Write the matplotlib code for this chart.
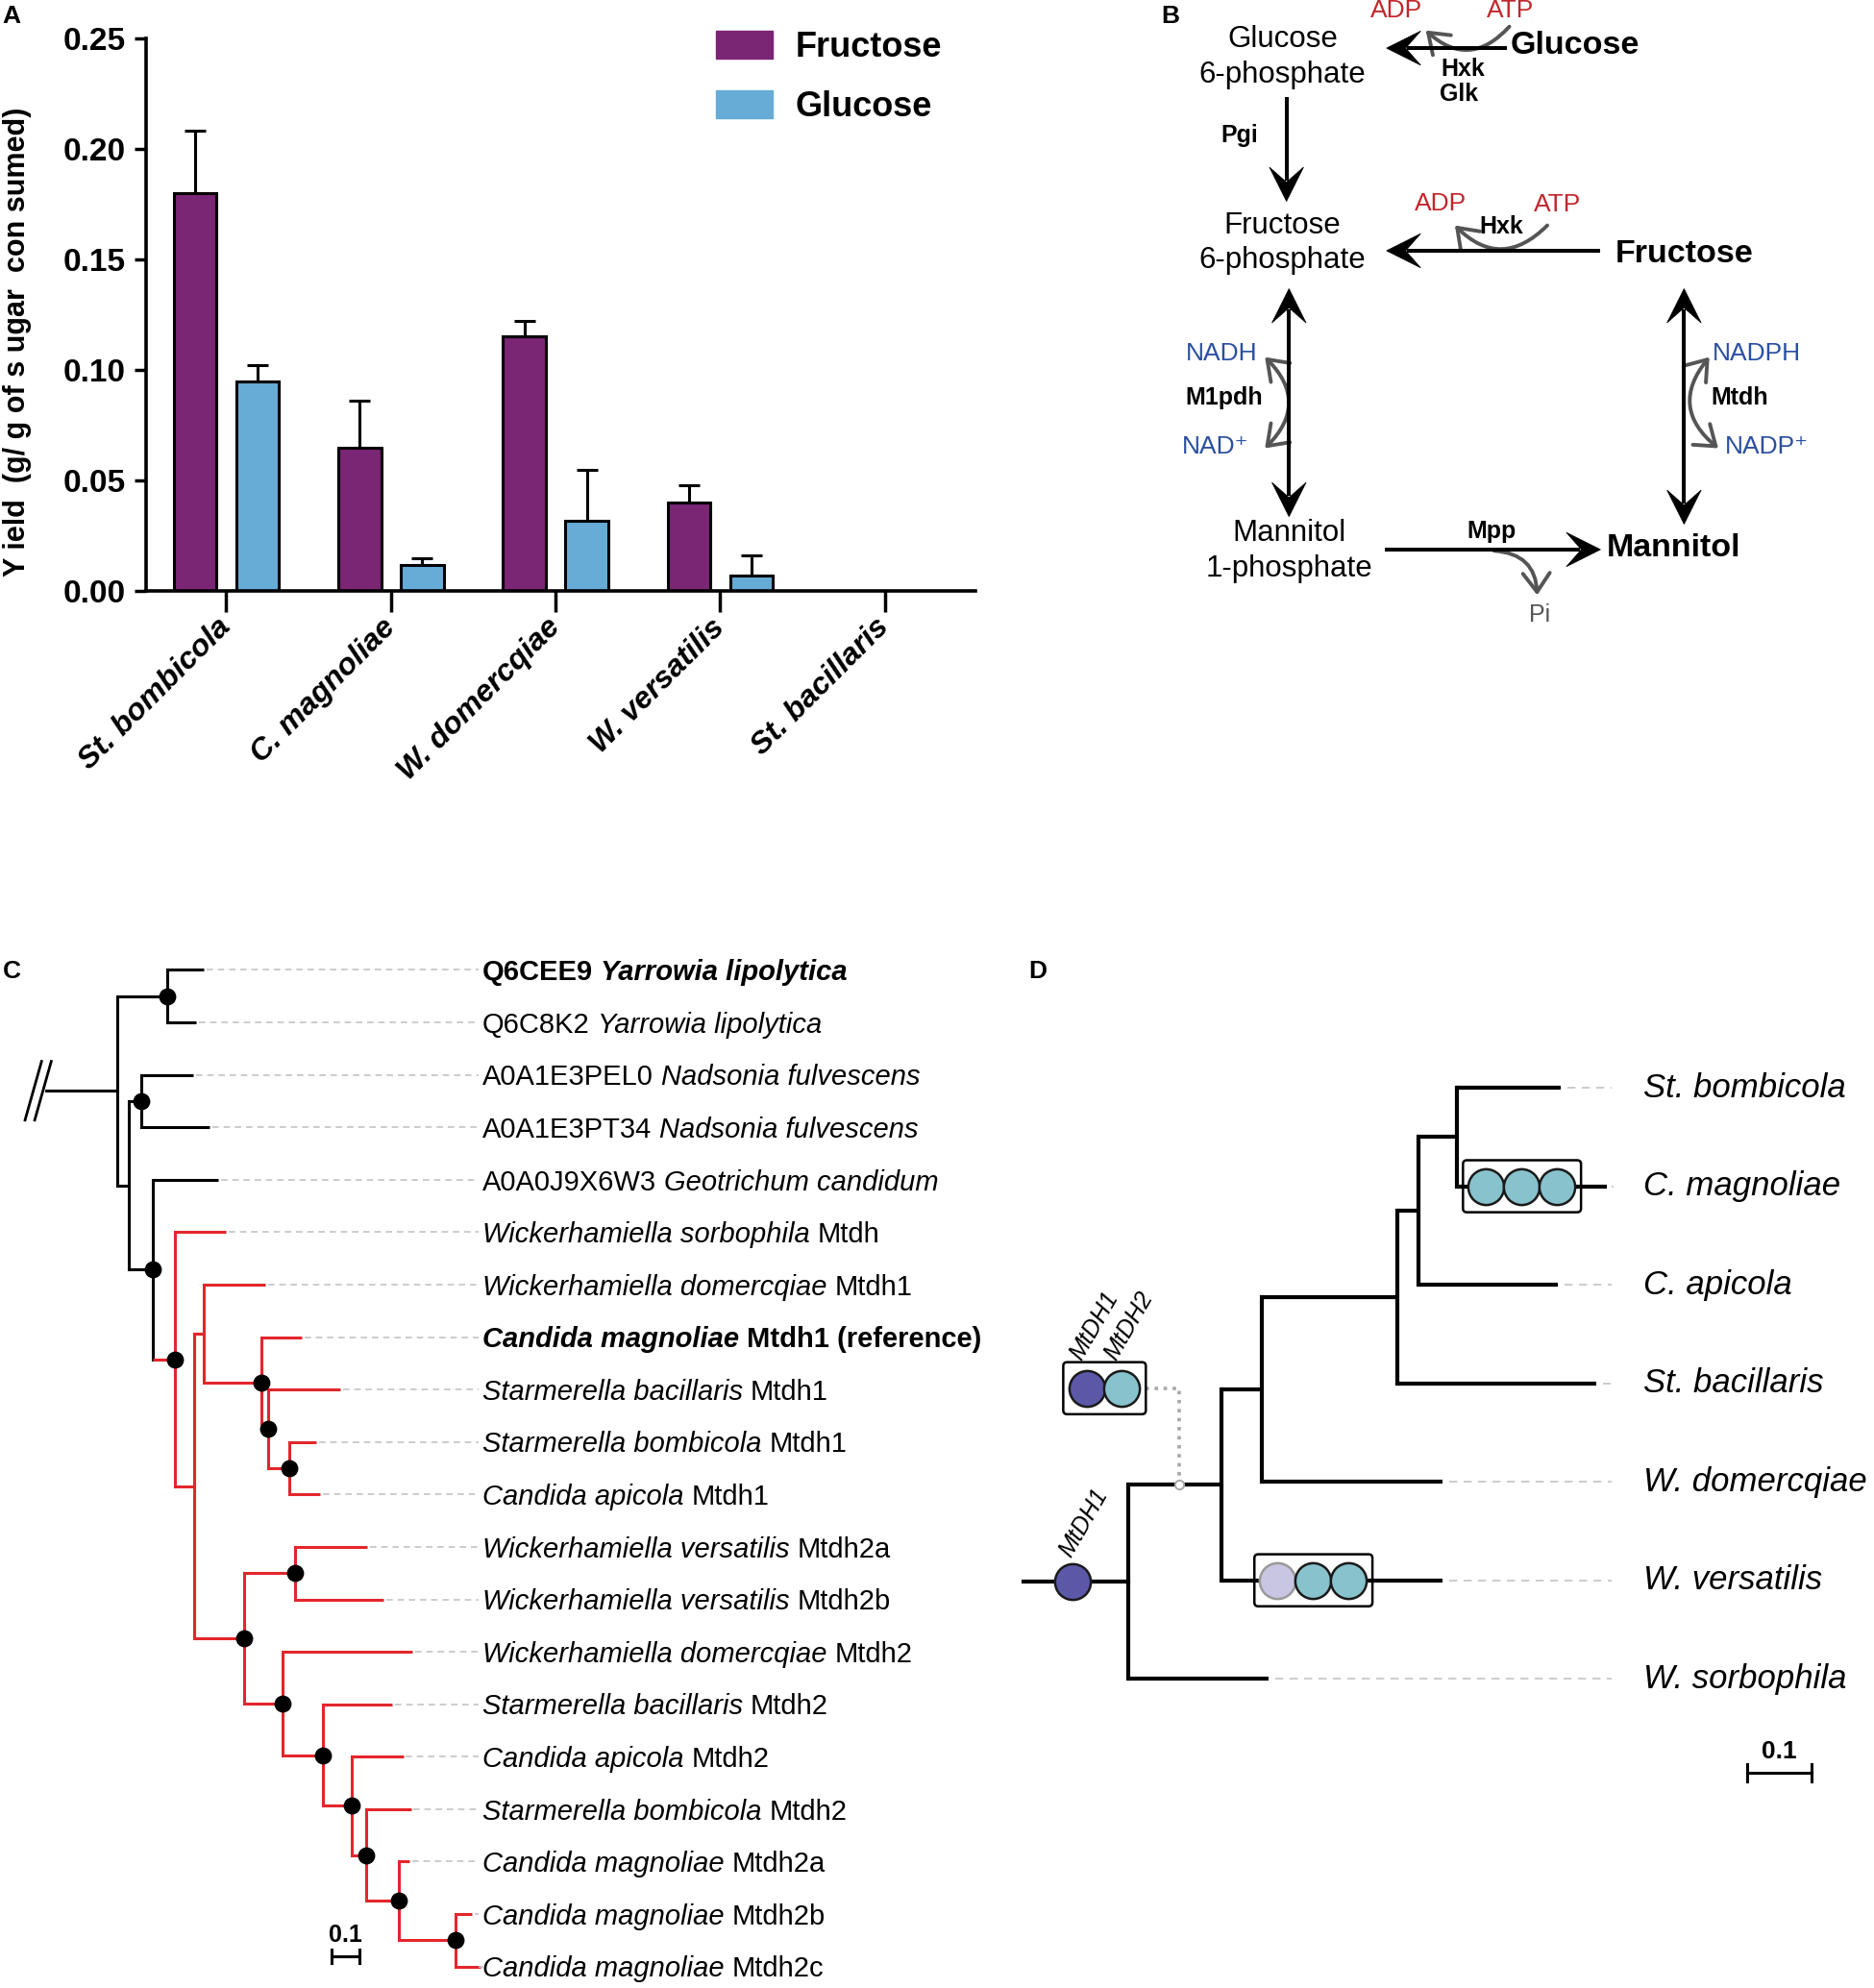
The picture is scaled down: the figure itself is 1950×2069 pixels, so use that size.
import re
import numpy as np
import matplotlib
matplotlib.use("Agg")
import matplotlib.pyplot as plt
from matplotlib.patches import Patch, Polygon, FancyArrowPatch, FancyBboxPatch

plt.rcParams['font.family'] = ['Liberation Sans', 'DejaVu Sans']

# ---------------- panel A data ----------------
SPECIES_A      = ["St. bombicola", "C. magnoliae", "W. domercqiae", "W. versatilis", "St. bacillaris"]
FRUCTOSE_YIELD = [0.180, 0.065, 0.115, 0.040, 0.0]
FRUCTOSE_ERR   = [0.028, 0.021, 0.007, 0.008, 0.0]
GLUCOSE_YIELD  = [0.095, 0.012, 0.032, 0.007, 0.0]
GLUCOSE_ERR    = [0.007, 0.003, 0.023, 0.009, 0.0]
Y_TICKS        = [0.00, 0.05, 0.10, 0.15, 0.20, 0.25]

# ---------------- panel C data (branch lengths, * = supported node, R = red clade) ----------------
C_NEWICK = ("((T0:0.135,T1:0.105)*:0.179,((T2:0.186,T3:0.247)*:0.047,(T4:0.237,(T5:0.186,"
            "((T6:0.221,(T7:0.147,(T8:0.263,(T9:0.098,T10:0.112)*:0.077)*:0.023)*:0.207):0.035,"
            "((T11:0.263,T12:0.323)*:0.184,(T13:0.470,(T14:0.249,(T15:0.188,(T16:0.163,"
            "(T17:0.040,(T18:0.060,T19:0.091)*:0.205)*:0.119)*:0.053)*:0.102)*:0.147)*:0.140)*:0.179)"
            ":0.072)R*:0.079)*:0.088):0.040);")
C_TIPS = [
    ("Q6CEE9", "Yarrowia lipolytica", ""),
    ("Q6C8K2", "Yarrowia lipolytica", ""),
    ("A0A1E3PEL0", "Nadsonia fulvescens", ""),
    ("A0A1E3PT34", "Nadsonia fulvescens", ""),
    ("A0A0J9X6W3", "Geotrichum candidum", ""),
    ("", "Wickerhamiella sorbophila", "Mtdh"),
    ("", "Wickerhamiella domercqiae", "Mtdh1"),
    ("", "Candida magnoliae", "Mtdh1 (reference)"),
    ("", "Starmerella bacillaris", "Mtdh1"),
    ("", "Starmerella bombicola", "Mtdh1"),
    ("", "Candida apicola", "Mtdh1"),
    ("", "Wickerhamiella versatilis", "Mtdh2a"),
    ("", "Wickerhamiella versatilis", "Mtdh2b"),
    ("", "Wickerhamiella domercqiae", "Mtdh2"),
    ("", "Starmerella bacillaris", "Mtdh2"),
    ("", "Candida apicola", "Mtdh2"),
    ("", "Starmerella bombicola", "Mtdh2"),
    ("", "Candida magnoliae", "Mtdh2a"),
    ("", "Candida magnoliae", "Mtdh2b"),
    ("", "Candida magnoliae", "Mtdh2c"),
]
C_BOLD = [0, 7]

# ---------------- panel D data ----------------
D_NEWICK = ("((((((T0:0.161,T1:0.232):0.060,T2:0.216):0.032,T3:0.308):0.211,"
            "T4:0.281):0.062,T5:0.342):0.145,T6:0.218);")
D_TIPS = ["St. bombicola", "C. magnoliae", "C. apicola", "St. bacillaris",
          "W. domercqiae", "W. versatilis", "W. sorbophila"]
# gene copies: (row, x of first copy on branch, copies)  1 = MtDH1, 2 = MtDH2, 0 = lost MtDH1
D_COPIES = [(3.05, -0.064, [1, 2]), (1, 0.555, [2, 2, 2]), (5, 0.232, [0, 2, 2])]

PURPLE = "#7b2575"
BLUE = "#67acd6"
TREE_RED = "#e3262c"
MT1 = "#5c58a8"
MT2 = "#88c2cc"
MT1_LOST = "#c9c6e3"
RED_T = "#c1272d"
BLUE_T = "#2b4fa0"
GREY = "#555555"


def parse_newick(s):
    tokens = re.findall(r"[(),;]|[^(),;]+", s)
    pos = 0

    def node():
        nonlocal pos
        kids = []
        if tokens[pos] == "(":
            pos += 1
            kids.append(node())
            while tokens[pos] == ",":
                pos += 1
                kids.append(node())
            pos += 1
        label, bl = "", 0.0
        if tokens[pos] not in "(),;":
            label, _, b = tokens[pos].partition(":")
            bl = float(b) if b else 0.0
            pos += 1
        return {"label": label, "bl": bl, "kids": kids}

    return node()


def layout(node, x0=0.0):
    node["x"] = x0 + node["bl"]
    if node["kids"]:
        for k in node["kids"]:
            layout(k, node["x"])
        node["y"] = (node["kids"][0]["y"] + node["kids"][-1]["y"]) / 2
    else:
        node["y"] = int(node["label"][1:])
    return node


def draw_tree(ax, node, col, lw, dot_s=0, tips=None):
    if node["kids"]:
        ys = [k["y"] for k in node["kids"]]
        ax.plot([node["x"]] * 2, [min(ys), max(ys)], color=col, lw=lw, solid_capstyle="projecting")
        for k in node["kids"]:
            kcol = TREE_RED if "R" in k["label"] else col
            ax.plot([node["x"], k["x"]], [k["y"]] * 2, color=kcol, lw=lw, solid_capstyle="butt")
            draw_tree(ax, k, kcol, lw, dot_s, tips)
    elif tips is not None:
        tips.append(node)
    if dot_s and "*" in node["label"]:
        ax.scatter([node["x"]], [node["y"]], s=dot_s, color="black", zorder=5)


def rich_label(ax, x, y, parts, size):
    prev = None
    for text, weight, style in parts:
        if not text:
            continue
        kw = dict(fontsize=size, fontweight=weight, fontstyle=style, ha="left")
        if prev is None:
            prev = ax.text(x, y, text, va="center", **kw)
        else:
            prev = ax.annotate(text, xy=(1, 0), xycoords=prev, xytext=(size * 0.27, 0),
                               textcoords="offset points", va="bottom", **kw)


def block_arrow(ax, start, end, both=False, lw=2.9, hl=27, hw=27):
    p0, p1 = np.array(start, float), np.array(end, float)
    d = (p1 - p0) / np.linalg.norm(p1 - p0)
    n = np.array([-d[1], d[0]])

    def head(tip, dv):
        pts = [tip, tip - dv * hl + n * hw / 2, tip - dv * hl * 0.56, tip - dv * hl - n * hw / 2]
        ax.add_patch(Polygon(pts, closed=True, fc="black", ec="black", lw=0.5, zorder=3))
        return tip - dv * hl * 0.6

    a = head(p0, -d) if both else p0
    b = head(p1, d)
    ax.plot([a[0], b[0]], [a[1], b[1]], color="black", lw=lw, solid_capstyle="butt")


def curved(ax, a, b, rad, style="->"):
    ax.add_patch(FancyArrowPatch(a, b, connectionstyle=f"arc3,rad={rad}",
                                 arrowstyle=f"{style},head_length=0.5,head_width=0.36",
                                 mutation_scale=28, color=GREY, lw=2.8, shrinkA=0, shrinkB=0))


fig = plt.figure(figsize=(19.5, 20.69), dpi=100)

# canvas in reference-pixel units (1480 x 1570) for the pathway and panel letters
cv = fig.add_axes([0, 0, 1, 1])
cv.set_xlim(0, 1480)
cv.set_ylim(1570, 0)
cv.axis("off")

for letter, lx, ly in [("A", 2, 13), ("B", 917, 13), ("C", 2, 767), ("D", 812, 767)]:
    cv.text(lx, ly, letter, fontsize=19, fontweight="bold", ha="left", va="center")

# ---------------- panel A ----------------
axA = fig.add_axes([0.0777, 0.7026, 0.4428, 0.2783])
axA.patch.set_visible(False)
xs = np.arange(len(SPECIES_A))
w, off = 0.26, 0.19
for shift, vals, errs, col in [(-off, FRUCTOSE_YIELD, FRUCTOSE_ERR, PURPLE),
                               (off, GLUCOSE_YIELD, GLUCOSE_ERR, BLUE)]:
    vals, errs = np.array(vals), np.array(errs)
    axA.bar(xs + shift, vals, w, color=col, edgecolor="black", lw=2.2, zorder=2)
    m = vals > 0
    axA.errorbar(xs[m] + shift, vals[m], yerr=[np.zeros(m.sum()), errs[m]], fmt="none",
                 ecolor="black", elinewidth=2.2, capsize=8, capthick=2.2, zorder=1)

axA.set_xlim(-0.49, 4.55)
axA.set_ylim(0, 0.25)
axA.set_yticks(Y_TICKS)
axA.set_yticklabels([f"{v:.2f}" for v in Y_TICKS], fontsize=24, fontweight="bold")
axA.set_xticks(xs)
axA.set_xticklabels(SPECIES_A, rotation=45, ha="right", va="center", rotation_mode="anchor",
                    fontsize=23, fontweight="bold", fontstyle="italic")
axA.tick_params(axis="y", length=9, width=2.5, pad=6)
axA.tick_params(axis="x", length=16, width=2.5, pad=8)
for s in ["top", "right"]:
    axA.spines[s].set_visible(False)
for s in ["left", "bottom"]:
    axA.spines[s].set_linewidth(2.6)
axA.set_ylabel("Y ield  (g/ g of s ugar  con sumed)", fontsize=22, fontweight="bold")
axA.yaxis.set_label_coords(-0.137, 0.45)
handles = [Patch(color=PURPLE), Patch(color=BLUE)]
axA.legend(handles, ["Fructose", "Glucose"], loc="upper left", bbox_to_anchor=(0.687, 1.013),
           frameon=False, borderpad=0, borderaxespad=0, handlelength=1.65, handleheight=0.85,
           handletextpad=0.65, labelspacing=0.75, prop={"size": 26, "weight": "bold"})

# ---------------- panel B (pathway) ----------------
B_TEXT = [
    ("Glucose\n6-phosphate", 1013, 45, "black", "normal", 22.5),
    ("Fructose\n6-phosphate", 1013, 192, "black", "normal", 22.5),
    ("Mannitol\n1-phosphate", 1018, 435, "black", "normal", 22.5),
    ("Glucose", 1244, 36, "black", "bold", 24.5),
    ("Fructose", 1330, 201, "black", "bold", 24.5),
    ("Mannitol", 1322, 433, "black", "bold", 24.5),
    ("ADP", 1103, 8, RED_T, "normal", 19), ("ATP", 1193, 8, RED_T, "normal", 19),
    ("ADP", 1138, 161, RED_T, "normal", 19), ("ATP", 1230, 162, RED_T, "normal", 19),
    ("Hxk", 1155, 55, "black", "bold", 18), ("Glk", 1152, 74, "black", "bold", 18),
    ("Hxk", 1186, 179, "black", "bold", 18), ("Pgi", 979, 107, "black", "bold", 18),
    ("NADH", 965, 279, BLUE_T, "normal", 19), ("M1pdh", 967, 314, "black", "bold", 18),
    ("NAD\u207a", 960, 353, BLUE_T, "normal", 19),
    ("NADPH", 1387, 279, BLUE_T, "normal", 19), ("Mtdh", 1374, 314, "black", "bold", 18),
    ("NADP\u207a", 1395, 353, BLUE_T, "normal", 19),
    ("Mpp", 1178, 420, "black", "bold", 18), ("Pi", 1216, 486, GREY, "normal", 18),
]
for txt, tx, ty, col, wt, sz in B_TEXT:
    cv.text(tx, ty, txt, ha="center", va="center", color=col, fontweight=wt, fontsize=sz,
            linespacing=1.3)

block_arrow(cv, (1190, 38), (1095, 38))
block_arrow(cv, (1016, 77), (1016, 159))
block_arrow(cv, (1264, 198), (1095, 198))
block_arrow(cv, (1018, 228), (1018, 408), both=True)
block_arrow(cv, (1330, 228), (1330, 414), both=True)
block_arrow(cv, (1094, 434), (1264, 434))

curved(cv, (1192, 21), (1126, 24), -0.5)
curved(cv, (1222, 178), (1149, 178), -0.5)
curved(cv, (999, 282), (999, 354), -0.5, "<->")
curved(cv, (1350, 282), (1357, 354), 0.5, "<->")
curved(cv, (1180, 435), (1214, 470), -0.45)

# ---------------- panel C (gene tree) ----------------
axC = fig.add_axes([0, 0, 1000 / 1480, 1 - 740 / 1570])
axC.axis("off")
axC.set_xlim(-92.8 / 218, (1000 - 92.8) / 218)
axC.set_ylim(19.41, -0.628)
treeC = layout(parse_newick(C_NEWICK))
tipsC = []
draw_tree(axC, treeC, "black", 2.2, dot_s=140, tips=tipsC)
axC.plot([-0.26, 0], [treeC["y"]] * 2, color="black", lw=2.2)
for bx in (-0.335, -0.300):
    axC.plot([bx, bx + 0.06], [treeC["y"] + 0.56, treeC["y"] - 0.56], color="black", lw=2.0)
LABEL_XC = 1.322
for t in tipsC:
    axC.plot([t["x"] + 0.01, LABEL_XC - 0.015], [t["y"]] * 2, color="#c4c4c4", lw=1.2,
             dashes=(4, 3))
for i, (pre, sp, suf) in enumerate(C_TIPS):
    wt = "bold" if i in C_BOLD else "normal"
    rich_label(axC, LABEL_XC, i + 0.05, [(pre, wt, "normal"), (sp, wt, "italic"), (suf, wt, "normal")], 21)
axC.plot([0.776, 0.876], [18.81, 18.81], color="black", lw=2.2)
for ex in (0.776, 0.876):
    axC.plot([ex, ex], [18.68, 18.94], color="black", lw=2.2)
axC.text(0.826, 18.62, "0.1", ha="center", va="bottom", fontsize=18, fontweight="bold")

# ---------------- panel D (species tree) ----------------
axD = fig.add_axes([800 / 1480, 0, 680 / 1480, 1 - 740 / 1570])
axD.axis("off")
axD.set_xlim((800 - 890.7) / 510, (1480 - 890.7) / 510)
axD.set_ylim(9.139, -1.530)
treeD = layout(parse_newick(D_NEWICK))
tipsD = []
draw_tree(axD, treeD, "black", 3.0, tips=tipsD)
axD.plot([-0.162, 0], [treeD["y"]] * 2, color="black", lw=3.0)
LABEL_XD = 0.799
for t in tipsD:
    axD.plot([t["x"] + 0.01, LABEL_XD - 0.05], [t["y"]] * 2, color="#c4c4c4", lw=1.2,
             dashes=(5, 4))
for i, name in enumerate(D_TIPS):
    axD.text(LABEL_XD, i, name, ha="left", va="center", fontsize=25, fontstyle="italic")

step = 0.0549
copy_col = {0: MT1_LOST, 1: MT1, 2: MT2}
copy_edge = {0: "#9a9a9a", 1: "#1a1a1a", 2: "#1a1a1a"}
aspect = 510 / 77.8

# root MtDH1 copy
rx, ry = -0.086, treeD["y"]
axD.scatter([rx], [ry], s=720, color=MT1, edgecolor="#1a1a1a", lw=1.8, zorder=6)
axD.annotate("MtDH1", xy=(rx, ry), xytext=(2, 16), textcoords="offset points", rotation=60,
             rotation_mode="anchor", ha="left", va="bottom", fontsize=18, fontstyle="italic")

for row, x0, copies in D_COPIES:
    cx = x0 + step * np.arange(len(copies))
    box = FancyBboxPatch((cx[0] - 0.036, row - 0.264), cx[-1] - cx[0] + 0.073, 0.528,
                         boxstyle="round,pad=0,rounding_size=0.006", mutation_aspect=aspect,
                         fc="white", ec="black", lw=1.8, zorder=4)
    axD.add_patch(box)
    if isinstance(row, int):
        axD.plot([cx[0] - 0.036, cx[-1] + 0.037], [row, row], color="black", lw=3.0, zorder=4.5)
    for c, k in zip(cx, copies):
        axD.scatter([c], [row], s=720, color=copy_col[k], edgecolor=copy_edge[k], lw=1.8, zorder=6)
    if row == 3.05:
        for c, lab in zip(cx, ["MtDH1", "MtDH2"]):
            axD.annotate(lab, xy=(c, row), xytext=(-1, 18), textcoords="offset points",
                         rotation=60, rotation_mode="anchor", ha="left", va="bottom",
                         fontsize=18, fontstyle="italic")
        n385 = treeD["kids"][0]
        jx = 0.079
        axD.plot([cx[-1] + 0.037, jx, jx], [row, row, n385["y"]], color="#a8a8a8", lw=2.6,
                 ls=(0, (1, 1.6)), zorder=3)
        axD.scatter([jx], [n385["y"]], s=45, color="white", edgecolor="#a8a8a8", lw=1.4, zorder=6)

axD.plot([0.959, 1.059], [6.954, 6.954], color="black", lw=2.2)
for ex in (0.959, 1.059):
    axD.plot([ex, ex], [6.87, 7.04], color="black", lw=2.2)
axD.text(1.009, 6.86, "0.1", ha="center", va="bottom", fontsize=19, fontweight="bold")

fig.savefig("out.png", dpi=100)
